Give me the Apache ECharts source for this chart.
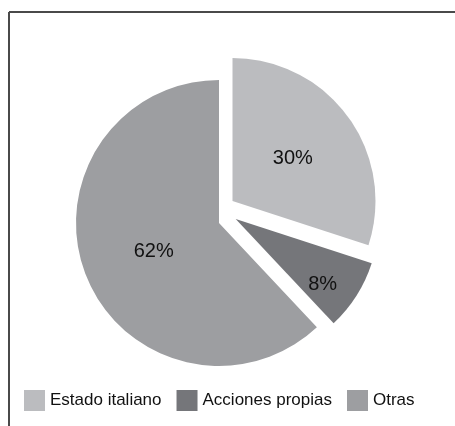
<!DOCTYPE html>
<html>
<head>
<meta charset="utf-8">
<script src="https://cdn.jsdelivr.net/npm/echarts@6/dist/echarts.min.js"></script>
<style>
  html, body { margin: 0; padding: 0; background: #fff; }
  #chart { width: 455px; height: 426px; }
</style>
</head>
<body>
<div id="chart"></div>
<script>
var names = ["Estado italiano", "Acciones propias", "Otras"];
var values = [30, 8, 62];

var colors = ["#bbbcbf", "#75767a", "#9d9ea1"];
var font = "'Liberation Sans', Arial, sans-serif";

// every slice gets its own pie series, so each one can be pulled out on its own
var centers = [[232.5, 201], [235.7, 219], [219, 223]];
var labelShift = [[0, 1], [24, 26], [4, 1]];

var series = names.map(function (own, k) {
  return {
    type: "pie",
    name: own,
    radius: 143,
    center: centers[k],
    startAngle: 90,
    clockwise: true,
    silent: true,
    animation: false,
    avoidLabelOverlap: false,
    labelLine: { show: false },
    labelLayout: { dx: labelShift[k][0], dy: labelShift[k][1] },
    data: names.map(function (n, i) {
      return {
        name: n,
        value: values[i],
        itemStyle: {
          color: i === k ? colors[i] : "rgba(0,0,0,0)",
          borderWidth: 0
        },
        label: {
          show: i === k,
          position: "inside",
          formatter: "{c}%",
          color: "#111",
          fontSize: 20,
          fontFamily: font
        }
      };
    })
  };
});

var chart = echarts.init(document.getElementById("chart"));
chart.setOption({
  animation: false,
  graphic: [
    { type: "line", shape: { x1: 9, y1: 12, x2: 455, y2: 12 }, style: { stroke: "#4a4a4a", lineWidth: 2 } },
    { type: "line", shape: { x1: 9, y1: 12, x2: 9, y2: 426 }, style: { stroke: "#4a4a4a", lineWidth: 2 } }
  ],
  legend: {
    left: 19,
    top: 385,
    icon: "rect",
    itemWidth: 21,
    itemHeight: 21,
    itemGap: 15,
    selectedMode: false,
    textStyle: { fontSize: 17, color: "#111", fontFamily: font },
    data: names.map(function (n, i) {
      return { name: n, itemStyle: { color: colors[i] } };
    })
  },
  series: series
});
</script>
</body>
</html>
